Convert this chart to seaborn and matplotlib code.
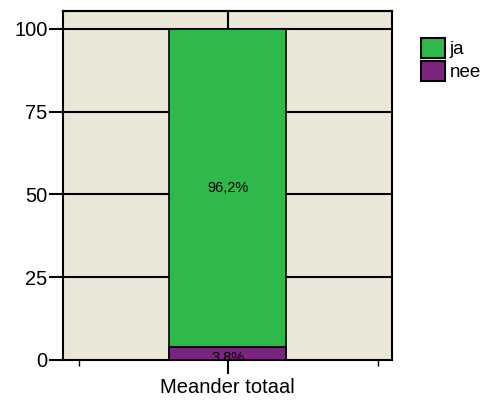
import numpy as np
import pandas as pd
import seaborn as sns
import matplotlib.pyplot as plt
from matplotlib.patches import Patch

categorie = ['Meander totaal']
ja = [96.2]
nee = [3.8]
labels_ja = ['96,2%']
labels_nee = ['3,8%']

GROEN = '#2fb84b'
PAARS = '#7b247d'
ACHTERGROND = '#ebe7d8'

sns.set_style('ticks', {'axes.edgecolor': 'black', 'text.color': 'black',
                        'xtick.color': 'black', 'ytick.color': 'black',
                        'axes.labelcolor': 'black'})
plt.rcParams['font.family'] = ['Liberation Sans', 'DejaVu Sans']

df = pd.DataFrame({'categorie': categorie, 'ja': ja, 'nee': nee})
df['totaal'] = df['ja'] + df['nee']

fig = plt.figure(figsize=(4.92, 4.03), dpi=100)
ax = fig.add_axes([0.128, 0.1067, 0.669, 0.866])
ax.set_facecolor(ACHTERGROND)

# gestapelde balk: eerst totaal (groen), daarna 'nee' onderaan (paars)
sns.barplot(data=df, x='categorie', y='totaal', color=GROEN, saturation=1,
            width=0.356, edgecolor='black', linewidth=1.2, ax=ax, zorder=3)
sns.barplot(data=df, x='categorie', y='nee', color=PAARS, saturation=1,
            width=0.356, edgecolor='black', linewidth=1.2, ax=ax, zorder=4)

for i, row in df.iterrows():
    ax.text(i, row['nee'] + row['ja'] / 2, labels_ja[i], ha='center', va='center',
            fontsize=10.5, color='black', zorder=5)
    ax.text(i, row['nee'] / 2 - 1.2, labels_nee[i], ha='center', va='center',
            fontsize=10.5, color='black', zorder=5, clip_on=True)

ax.set_xlim(-0.5, 0.5)
ax.set_ylim(0, 105.4)
ax.set_yticks([0, 25, 50, 75, 100])
for y in [25, 50, 75, 100]:
    ax.axhline(y, color='black', lw=1.5, zorder=1)

ax.set_xlabel('')
ax.set_ylabel('')
ax.tick_params(axis='y', direction='out', length=10, width=1.5, labelsize=14.5, pad=1)
ax.tick_params(axis='x', which='major', direction='out', length=10, width=1.5,
               labelsize=14.5, pad=3)
ax.set_xticks([-0.452, 0.457], minor=True)
ax.tick_params(axis='x', which='minor', direction='out', length=4, width=1)

# tick bovenaan naar binnen
top = ax.secondary_xaxis('top')
top.set_xticks([0])
top.set_xticklabels([])
top.tick_params(direction='in', length=13, width=1.5, color='black')
top.spines['top'].set_linewidth(1.5)

for s in ax.spines.values():
    s.set_linewidth(1.5)
    s.set_color('black')

handles = [Patch(facecolor=GROEN, edgecolor='black', linewidth=1.5, label='ja'),
           Patch(facecolor=PAARS, edgecolor='black', linewidth=1.5, label='nee')]
fig.legend(handles=handles, loc='upper left', bbox_to_anchor=(0.836, 0.93),
           frameon=False, fontsize=13.5, handlelength=1.3, handleheight=1.3,
           handletextpad=0.25, labelspacing=0.15, borderpad=0)

fig.savefig('out.png', dpi=100)
